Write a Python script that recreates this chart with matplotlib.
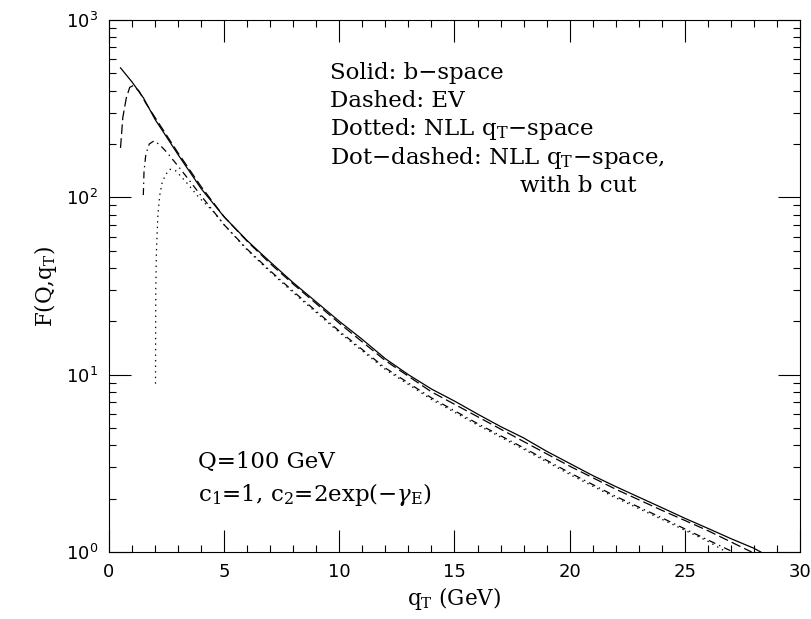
import matplotlib
matplotlib.use("Agg")
import matplotlib.pyplot as plt
from matplotlib.ticker import MultipleLocator, LogLocator

# solid: b-space
qt_solid = [0.5, 1.0, 1.5, 2.0, 2.5, 3.0, 4.0, 5.0, 6.0, 7.0, 8.0, 9.0, 10.0, 11.0, 12.0,
            13.0, 14.0, 15.0, 16.0, 17.0, 18.0, 19.0, 20.0, 21.0, 22.0, 23.0, 24.0,
            25.0, 26.0, 27.0, 28.0, 28.3]
f_solid = [537, 447, 363, 275, 219, 174, 112, 77.6, 57, 43.2, 33, 25.7, 20, 15.8, 12.3,
           10.0, 8.3, 7.1, 6.0, 5.1, 4.4, 3.7, 3.16, 2.7, 2.34, 2.04, 1.78,
           1.55, 1.36, 1.19, 1.05, 1.0]

# dashed: EV
qt_ev = [0.5, 0.6, 0.75, 0.9, 1.05, 1.3, 1.6, 2.0, 2.5, 3.0, 4.0, 5.0, 6.0, 7.0, 8.0,
         10.0, 12.0, 14.0, 16.0, 18.0, 20.0, 22.0, 24.0, 26.0, 27.9]
f_ev = [190, 282, 363, 417, 427, 398, 339, 282, 224, 178, 115, 77.6, 56.5, 42.3, 32.4,
        19.5, 12.0, 8.0, 5.8, 4.2, 3.05, 2.26, 1.72, 1.32, 1.0]

# dotted: NLL qT-space
qt_nll = [2.02, 2.03, 2.06, 2.12, 2.2, 2.3, 2.45, 2.65, 2.9, 3.3, 3.9, 4.5, 5.0, 6.0,
          7.0, 8.0, 10.0, 12.0, 14.0, 16.0, 18.0, 20.0, 22.0, 24.0, 26.0, 26.8]
f_nll = [8.9, 30, 50, 78, 102, 120, 134, 144, 141, 124, 100, 84, 70, 50.5,
         38, 29, 17.3, 10.7, 7.25, 5.2, 3.8, 2.74, 2.02, 1.53, 1.15, 1.0]

# dot-dashed: NLL qT-space with b cut
qt_bcut = [1.49, 1.52, 1.6, 1.75, 1.95, 2.2, 2.5, 3.0, 3.5, 4.0, 5.0, 6.0, 7.0, 8.0,
           10.0, 12.0, 14.0, 16.0, 18.0, 20.0, 22.0, 24.0, 26.0, 27.1]
f_bcut = [103, 140, 175, 200, 208, 198, 180, 150, 124, 102, 70, 51, 38.5, 29.5,
          17.6, 10.9, 7.4, 5.3, 3.87, 2.8, 2.06, 1.56, 1.17, 1.0]

legend_lines = ["Solid: b\u2212space",
                "Dashed: EV",
                "Dotted: NLL q$_{\\rm T}$\u2212space",
                "Dot\u2212dashed: NLL q$_{\\rm T}$\u2212space,",
                "with b cut"]

plt.rcParams['mathtext.fontset'] = 'dejavuserif'
plt.rcParams['lines.scale_dashes'] = False

fig = plt.figure(figsize=(8.11, 6.19), dpi=100)
ax = fig.add_axes([0.1344, 0.1082, 0.852, 0.8595])

lw = 0.9
ax.plot(qt_solid, f_solid, color='k', lw=lw, linestyle='-')
ax.plot(qt_ev, f_ev, color='k', lw=lw, linestyle=(0, (7, 3)))
ax.plot(qt_nll, f_nll, color='k', lw=lw, linestyle=(0, (1, 3)))
ax.plot(qt_bcut, f_bcut, color='k', lw=lw, linestyle=(0, (5, 3, 1, 3)))

ax.set_yscale('log')
ax.set_xlim(0, 30)
ax.set_ylim(1, 1000)
ax.xaxis.set_major_locator(MultipleLocator(5))
ax.xaxis.set_minor_locator(MultipleLocator(1))
ax.yaxis.set_major_locator(LogLocator(base=10))
ax.yaxis.set_minor_locator(LogLocator(base=10, subs=range(2, 10)))
ax.tick_params(which='both', direction='in', top=True, right=True, width=0.8)
ax.tick_params(which='major', length=16, labelsize=13, pad=8)
ax.tick_params(which='minor', length=5)
for s in ax.spines.values():
    s.set_linewidth(0.8)

serif = 'DejaVu Serif'
ax.set_xlabel("q$_{\\rm T}$ (GeV)", fontsize=15.5, family=serif, labelpad=3)
ax.set_ylabel("F(Q,q$_{\\rm T}$)", fontsize=15.5, family=serif, labelpad=5)

y0 = 73
x_cols = [330, 330, 330, 330, 520]
for i, line in enumerate(legend_lines):
    ax.annotate(line, xy=(x_cols[i], 619 - (y0 + 28.2 * i)), xycoords='figure pixels',
                fontsize=16.5, family=serif, va='center', ha='left')

ax.annotate("Q=100 GeV", xy=(198, 619 - 462), xycoords='figure pixels',
            fontsize=16.5, family=serif, va='center', ha='left')
ax.annotate("c$_1$=1, c$_2$=2exp(\u2212$\\gamma_{\\rm E}$)", xy=(198, 619 - 494),
            xycoords='figure pixels', fontsize=16.5, family=serif, va='center', ha='left')

fig.savefig("out.png", dpi=100)
